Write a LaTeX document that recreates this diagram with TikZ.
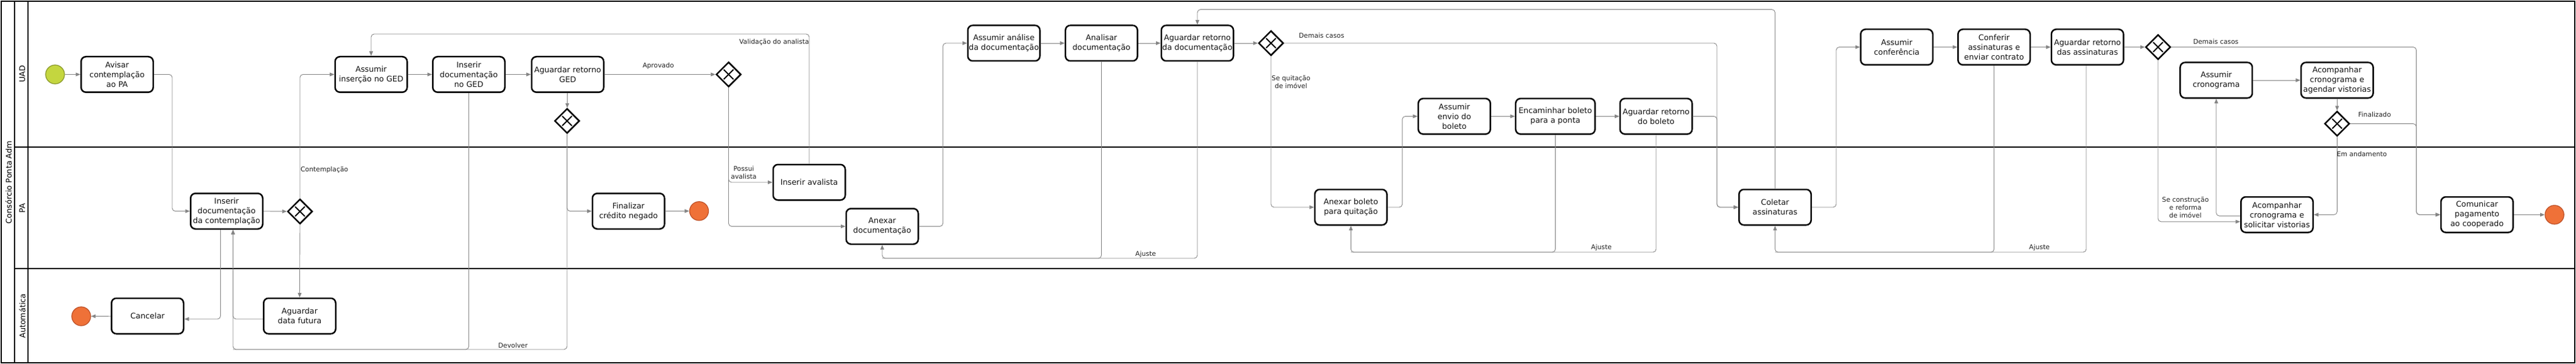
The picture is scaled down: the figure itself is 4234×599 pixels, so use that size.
\documentclass[tikz,border=0pt]{standalone}
\usepackage{fontspec}
\setmainfont{DejaVu Sans}
\usetikzlibrary{arrows.meta,shapes.geometric,calc}
\newcommand\tfnt{\fontsize{12.8}{16}\selectfont}
\newcommand\lfnt{\fontsize{10.8}{13}\selectfont}
\newcommand\hfnt{\fontsize{12.8}{15}\selectfont}
\definecolor{flowc}{HTML}{858585}
\definecolor{startfill}{HTML}{C4D63F}
\definecolor{startdraw}{HTML}{8C9B2D}
\definecolor{endfill}{HTML}{EF7138}
\definecolor{enddraw}{HTML}{C0532A}
\begin{document}
\begin{tikzpicture}[x=1pt,y=-1pt,
  task/.style={draw=black,line width=2.5pt,rounded corners=8pt,fill=white,
    minimum width=118.5pt,minimum height=58.5pt,align=center,font=\tfnt,
    inner sep=1pt,text=black!92},
  gw/.style={diamond,draw=black,line width=2.5pt,fill=white,aspect=1,
    minimum width=41pt,minimum height=41pt,inner sep=0pt,
    path picture={
      \draw[line width=2pt,black]
        ([xshift=-8pt,yshift=-8pt]path picture bounding box.center) --
        ([xshift=8pt,yshift=8pt]path picture bounding box.center);
      \draw[line width=2pt,black]
        ([xshift=-8pt,yshift=8pt]path picture bounding box.center) --
        ([xshift=8pt,yshift=-8pt]path picture bounding box.center);}},
  startev/.style={circle,draw=startdraw,fill=startfill,line width=1.3pt,minimum size=31pt,inner sep=0pt},
  endev/.style={circle,draw=enddraw,fill=endfill,line width=1.3pt,minimum size=31pt,inner sep=0pt},
  flow/.style={draw=flowc,line width=0.9pt,rounded corners=5pt,-{Triangle[length=7.5pt,width=6pt]}},
  plainflow/.style={draw=flowc,line width=0.9pt,rounded corners=5pt},
  lbl/.style={font=\lfnt,inner sep=0pt,text=black!85},
  lanelbl/.style={font=\hfnt,rotate=90,inner sep=0pt},
  laneline/.style={draw=black,line width=1.8pt}
]
\useasboundingbox (0,0) rectangle (4234,599);
\fill[white] (0,0) rectangle (4234,599);

% pool and lanes
\draw[laneline,line width=2.2pt] (2,2) rectangle (4232,597);
\draw[laneline] (24,2) -- (24,597);
\draw[laneline] (46,2) -- (46,597);
\draw[laneline] (24,242) -- (4232,242);
\draw[laneline] (24,442) -- (4232,442);
\node[lanelbl] (pool) at (14,300) {Consórcio Ponta Adm};
\node[lanelbl] (lUAD) at (36.5,122) {UAD};
\node[lanelbl] (lPA) at (36.5,343) {PA};
\node[lanelbl] (lAuto) at (36.5,520) {Automática};

% UAD lane
\node[startev] (start) at (90.5,122.5) {};
\node[task] (avisar) at (192.5,122.5) {Avisar\\contemplação\\ao PA};
\node[task] (assumirGED) at (610,122.5) {Assumir\\inserção no GED};
\node[task] (inserirGED) at (770.5,122.5) {Inserir\\documentação\\no GED};
\node[task] (aguardGED) at (933,122.5) {Aguardar retorno\\GED};
\node[gw] (g2) at (932,199) {};
\node[gw] (g3) at (1197.5,122.5) {};
\node[task] (assumirAnalise) at (1650,71) {Assumir análise\\da documentação};
\node[task] (analisar) at (1810.4,71) {Analisar\\documentação};
\node[task] (aguardDoc) at (1968,71) {Aguardar retorno\\da documentação};
\node[gw] (g4) at (2089,71) {};
\node[task] (assumirEnvio) at (2390.4,191.4) {Assumir\\envio do\\boleto};
\node[task,minimum width=130.5pt] (encaminhar) at (2556.4,191.4) {Encaminhar boleto\\para a ponta};
\node[task] (aguardBoleto) at (2722,191.4) {Aguardar retorno\\do boleto};
\node[task] (assumirConf) at (3117.5,77.5) {Assumir\\conferência};
\node[task] (conferir) at (3277.5,77.5) {Conferir\\assinaturas e\\enviar contrato};
\node[task] (aguardAss) at (3431,77.5) {Aguardar retorno\\das assinaturas};
\node[gw] (g5) at (3547,77.5) {};
\node[task] (assumirCrono) at (3642.7,132) {Assumir\\cronograma};
\node[task] (acompAgendar) at (3841.3,132) {Acompanhar\\cronograma e\\agendar vistorias};
\node[gw] (g6) at (3841.3,203.6) {};

% PA lane
\node[task] (inserirDoc) at (372.5,347.5) {Inserir\\documentação\\da contemplação};
\node[gw] (g1) at (493,348) {};
\node[task] (finalizar) at (1033,347.5) {Finalizar\\crédito negado};
\node[endev] (endNeg) at (1149,347.3) {};
\node[task] (inserirAval) at (1330,300) {Inserir avalista};
\node[task] (anexarDoc) at (1450,372.5) {Anexar\\documentação};
\node[task] (anexarBoleto) at (2220.3,341) {Anexar boleto\\para quitação};
\node[task] (coletar) at (2917.5,341) {Coletar\\assinaturas};
\node[task] (acompSolic) at (3742.5,353.3) {Acompanhar\\cronograma e\\solicitar vistorias};
\node[task] (comunicar) at (4071.3,353.3) {Comunicar\\pagamento\\ao cooperado};
\node[endev] (endFinal) at (4198.6,353.4) {};

% Automatica lane
\node[task] (cancelar) at (242.5,520) {Cancelar};
\node[endev] (endCancel) at (133.5,520.5) {};
\node[task] (aguardFutura) at (492.5,520) {Aguardar\\data futura};

% helper coordinates
\coordinate (devL) at (383,575);
\coordinate (yTop) at (0,15.7);
\coordinate (yVal) at (0,56);
\coordinate (yAj1) at (0,425);
\coordinate (yAj2) at (0,415);
\coordinate (xDC) at (2822,0);
\coordinate (xDC2) at (3971.5,0);

% flows
\draw[flow] (start) -- (avisar);
\draw[flow] (avisar.east) -- ++(30,0) |- (inserirDoc.west);
\draw[flow] (inserirDoc) -- (g1);
\draw[flow] (g1.north) |- (assumirGED.west);
\draw[flow] (g1.south) -- (aguardFutura.north);
\draw[flow] ([xshift=-10pt]inserirDoc.south) |- ([yshift=-5pt]cancelar.east);
\draw[flow] (cancelar) -- (endCancel);
\draw[flow] ([yshift=-5pt]aguardFutura.west) -| ([xshift=10.5pt]inserirDoc.south);
\draw[plainflow] (g2.south) |- (devL);
\draw[flow] (inserirGED.south) |- (devL) -- ([xshift=10.5pt]inserirDoc.south);
\draw[flow] (g2.south) |- (finalizar.west);
\draw[flow] (assumirGED) -- (inserirGED);
\draw[flow] (inserirGED) -- (aguardGED);
\draw[flow] (aguardGED) -- (g2);
\draw[flow] (aguardGED) -- (g3);
\draw[flow] (g3.south) |- (inserirAval.west);
\draw[flow] (g3.south) |- (anexarDoc.west);
\draw[flow] (inserirAval.north) -- (inserirAval.north |- yVal) -| (assumirGED.north);
\draw[flow] (finalizar) -- (endNeg);
\draw[flow] (anexarDoc.east) -- ++(39.3,0) |- (assumirAnalise.west);
\draw[flow] (assumirAnalise) -- (analisar);
\draw[flow] (analisar) -- (aguardDoc);
\draw[flow] (aguardDoc) -- (g4);
\draw[plainflow] (analisar.south) |- (anexarDoc.south |- yAj1);
\draw[flow] (aguardDoc.south) |- (anexarDoc.south |- yAj1) -- (anexarDoc.south);
\draw[flow] (g4.east) -- (g4.east -| xDC) |- (coletar.west);
\draw[flow] (g4.south) |- (anexarBoleto.west);
\draw[flow] (anexarBoleto.east) -- ++(24,0) |- (assumirEnvio.west);
\draw[flow] (assumirEnvio) -- (encaminhar);
\draw[flow] (encaminhar) -- (aguardBoleto);
\draw[flow] (aguardBoleto.east) -- (aguardBoleto.east -| xDC) |- (coletar.west);
\draw[plainflow] (encaminhar.south) |- (anexarBoleto.south |- yAj2);
\draw[flow] (aguardBoleto.south) |- (anexarBoleto.south |- yAj2) -- (anexarBoleto.south);
\draw[flow] (coletar.north) -- (coletar.north |- yTop) -| (aguardDoc.north);
\draw[flow] (coletar.east) -- ++(40,0) |- (assumirConf.west);
\draw[flow] (assumirConf) -- (conferir);
\draw[flow] (conferir) -- (aguardAss);
\draw[flow] (aguardAss) -- (g5);
\draw[plainflow] (conferir.south) |- (coletar.south |- yAj2);
\draw[flow] ([xshift=-2pt]aguardAss.south) |- (coletar.south |- yAj2) -- (coletar.south);
\draw[flow] (g5.east) -- (g5.east -| xDC2) |- (comunicar.west);
\draw[flow] (g5.south) |- ([yshift=-11.5pt]acompSolic.west);
\draw[flow] ([yshift=-2pt]acompSolic.west) -| (assumirCrono.south);
\draw[flow] (assumirCrono) -- (acompAgendar);
\draw[flow] (acompAgendar) -- (g6);
\draw[flow] (g6.east) -- (g6.east -| xDC2) |- (comunicar.west);
\draw[flow] (g6.south) |- (acompSolic.east);
\draw[flow] (comunicar) -- (endFinal);

% labels
\node[lbl,anchor=west] (lContemp) at (494,279) {Contemplação};
\node[lbl] (lDev) at (843,568) {Devolver};
\node[lbl] (lAprov) at (1082,108.5) {Aprovado};
\node[lbl,anchor=east] (lVal) at (1330,69) {Validação do analista};
\node[lbl,align=center] (lPoss) at (1222.5,283.5) {Possui\\avalista};
\node[lbl] (lAj1) at (1883,418.7) {Ajuste};
\node[lbl,anchor=west] (lDC1) at (2134.6,58.4) {Demais casos};
\node[lbl,align=center] (lSeQ) at (2122,135) {Se quitação\\de imóvel};
\node[lbl] (lAj2) at (2632,408) {Ajuste};
\node[lbl] (lAj3) at (3352,408) {Ajuste};
\node[lbl] (lDC2) at (3642,68.8) {Demais casos};
\node[lbl,align=center] (lSeC) at (3592,341.5) {Se construção\\e reforma\\de imóvel};
\node[lbl] (lFin) at (3903,188.7) {Finalizado};
\node[lbl] (lEm) at (3882,253.6) {Em andamento};
\end{tikzpicture}
\end{document}
